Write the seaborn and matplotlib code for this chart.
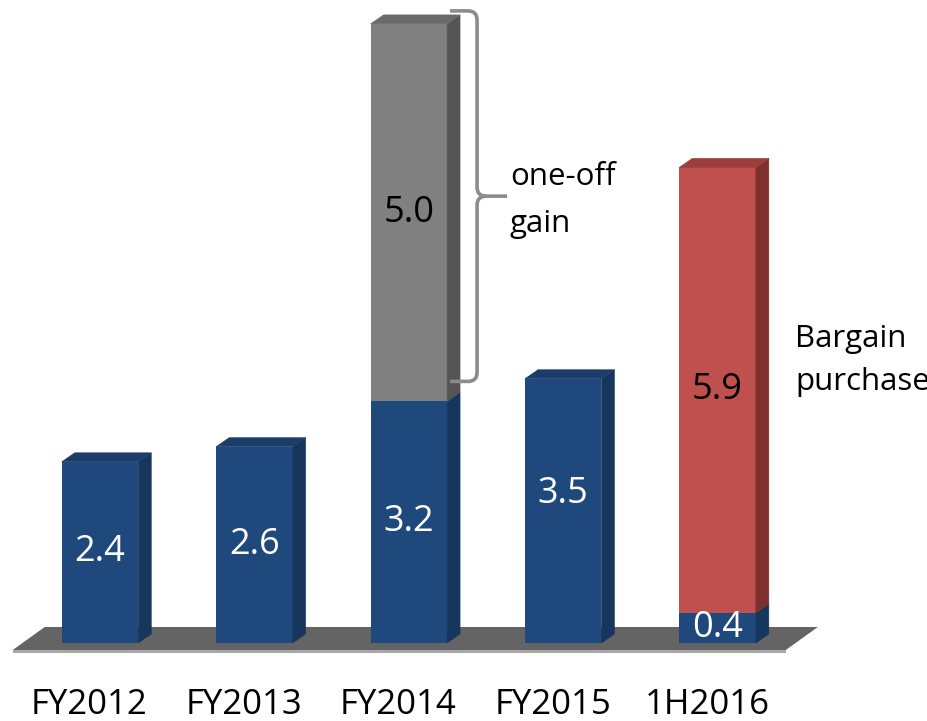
import matplotlib
matplotlib.use("Agg")
import matplotlib.pyplot as plt
from matplotlib.patches import Polygon, PathPatch
from matplotlib.path import Path
import pandas as pd
import seaborn as sns

# ---- data ---------------------------------------------------------------
periods = ["FY2012", "FY2013", "FY2014", "FY2015", "1H2016"]
recurring = [2.4, 2.6, 3.2, 3.5, 0.4]
one_off = [0.0, 0.0, 5.0, 0.0, 5.9]
one_off_kind = [None, None, "gain", None, "bargain"]

# ---- styling ------------------------------------------------------------
BLUE = {"front": "#1F497D", "side": "#17365D", "top": "#1B3D69"}
KIND_STYLE = {
    "gain": {"front": "#808080", "side": "#545454", "top": "#6A6A6A", "text": "black"},
    "bargain": {"front": "#C0504D", "side": "#7E302E", "top": "#9C3E3B", "text": "black"},
}
FLOOR = "#646464"
FLOOR_EDGE = "#A8A8A8"
BRACE = "#8C8C8C"

W_PX, H_PX = 927, 721
AX_BOTTOM_PX, AX_H_PX = 61, 660
PX_PER_CAT, PX_PER_UNIT = 154.4, 75.5
FIRST_CENTER_PX = 100
BAR_WIDTH = 0.4955
DEPTH_X_PX, DEPTH_Y_PX = 13, 9

sns.set_theme(style="white")
plt.rcParams["font.family"] = ["Open Sans", "DejaVu Sans"]

fig = plt.figure(figsize=(W_PX / 100, H_PX / 100), dpi=100)
ax = fig.add_axes([0, AX_BOTTOM_PX / H_PX, 1, AX_H_PX / H_PX])

totals = [r + o for r, o in zip(recurring, one_off)]
df = pd.DataFrame({"period": periods, "recurring": recurring, "total": totals})

top_palette = {
    p: (KIND_STYLE[k]["front"] if k else BLUE["front"])
    for p, k in zip(periods, one_off_kind)
}

# full stacked height first, recurring part painted over it
sns.barplot(data=df, x="period", y="total", hue="period", palette=top_palette,
            width=BAR_WIDTH, saturation=1, errorbar=None, legend=False,
            linewidth=0, ax=ax, zorder=3)
sns.barplot(data=df, x="period", y="recurring", color=BLUE["front"],
            width=BAR_WIDTH, saturation=1, errorbar=None,
            linewidth=0, ax=ax, zorder=3)

x0 = -FIRST_CENTER_PX / PX_PER_CAT
ax.set_xlim(x0, x0 + W_PX / PX_PER_CAT)
y0 = -17 / PX_PER_UNIT
ax.set_ylim(y0, y0 + AX_H_PX / PX_PER_UNIT)

sx = 1 / PX_PER_CAT      # data units per pixel (x)
sy = 1 / PX_PER_UNIT     # data units per pixel (y)
dx, dy = DEPTH_X_PX * sx, DEPTH_Y_PX * sy

total_bars = ax.patches[:len(periods)]
recurring_bars = ax.patches[len(periods):2 * len(periods)]

# floor slab under the bars
left = total_bars[0].get_x()
right = total_bars[-1].get_x() + total_bars[-1].get_width()
f_top, f_bot = 16 * sy, -7 * sy
floor = [(left - 17 * sx, f_top), (right + 62 * sx, f_top),
         (right + 30 * sx, f_bot), (left - 49 * sx, f_bot)]
ax.add_patch(Polygon(floor, closed=True, facecolor=FLOOR, edgecolor="none", zorder=1))
ax.add_patch(Polygon([(left - 49 * sx, f_bot), (right + 30 * sx, f_bot),
                      (right + 30 * sx, f_bot - 3 * sy), (left - 49 * sx, f_bot - 3 * sy)],
                     closed=True, facecolor=FLOOR_EDGE, edgecolor="none", zorder=1))


def face(pts, color):
    ax.add_patch(Polygon(pts, closed=True, facecolor=color, edgecolor=color,
                         linewidth=0.4, zorder=3))


def side_face(xr, lo, hi, color):
    face([(xr, lo), (xr + dx, lo + dy), (xr + dx, hi + dy), (xr, hi)], color)


def top_face(xl, xr, h, color):
    face([(xl, h), (xr, h), (xr + dx, h + dy), (xl + dx, h + dy)], color)


label_nudge_px = {"FY2015": 17}

for i, period in enumerate(periods):
    bar = recurring_bars[i]
    tot = total_bars[i]
    xl = bar.get_x()
    xr = xl + bar.get_width()
    cx = xl + bar.get_width() / 2
    base_h = bar.get_height()
    tot_h = tot.get_height()
    kind = one_off_kind[i]

    side_face(xr, 0, base_h, BLUE["side"])
    if kind:
        st = KIND_STYLE[kind]
        side_face(xr, base_h, tot_h, st["side"])
        top_face(xl, xr, tot_h, st["top"])
        ax.text(cx, (base_h + tot_h) / 2, f"{one_off[i]:.1f}", ha="center",
                va="center", fontsize=26, color=st["text"], zorder=6)
    else:
        top_face(xl, xr, base_h, BLUE["top"])

    y_lab = base_h / 2 + label_nudge_px.get(period, 0) * sy
    ax.text(cx, y_lab, f"{recurring[i]:.1f}", ha="center", va="center",
            fontsize=26, color="white", zorder=6)

# brace marking the one-off gain on FY2014
g = one_off_kind.index("gain")
gb = recurring_bars[g]
g_xr = gb.get_x() + gb.get_width()
b_top = total_bars[g].get_height() + 13 * sy
b_bot = gb.get_height() + 20 * sy
b_mid = (b_top + b_bot) / 2
xs, xv, xt = g_xr + 3 * sx, g_xr + 30 * sx, g_xr + 60 * sx
rx, ry = 9 * sx, 9 * sy
verts = [
    (xs, b_top), (xv - rx, b_top), (xv, b_top), (xv, b_top - ry),
    (xv, b_mid + ry), (xv, b_mid), (xv + rx, b_mid), (xt, b_mid),
    (xv + rx, b_mid), (xv, b_mid), (xv, b_mid - ry),
    (xv, b_bot + ry), (xv, b_bot), (xv - rx, b_bot), (xs, b_bot),
]
codes = [
    Path.MOVETO, Path.LINETO, Path.CURVE3, Path.CURVE3,
    Path.LINETO, Path.CURVE3, Path.CURVE3, Path.LINETO,
    Path.MOVETO, Path.CURVE3, Path.CURVE3,
    Path.LINETO, Path.CURVE3, Path.CURVE3, Path.LINETO,
]
ax.add_patch(PathPatch(Path(verts, codes), facecolor="none", edgecolor=BRACE,
                       linewidth=2.6, capstyle="butt", zorder=4))


def px_to_data(px, py_from_top):
    return x0 + px * sx, (643 - py_from_top) * sy


for txt, (px, py) in [("one-off", (510, 185)), ("gain", (510, 232)),
                      ("Bargain", (795, 347)), ("purchase", (795, 390))]:
    tx, ty = px_to_data(px, py)
    ax.text(tx, ty, txt, ha="left", va="baseline", fontsize=22.5,
            color="black", zorder=6)

# category labels, set slightly left under the floor's front edge
ax.set_xticks([k - 10.7 * sx for k in range(len(periods))], labels=periods)
ax.tick_params(axis="x", length=0, pad=20, labelsize=25, labelcolor="black")
ax.set_yticks([])
ax.set_xlabel("")
ax.set_ylabel("")
for s in ax.spines.values():
    s.set_visible(False)
ax.set_facecolor("white")
fig.patch.set_facecolor("white")

fig.savefig("out.png", dpi=100)
